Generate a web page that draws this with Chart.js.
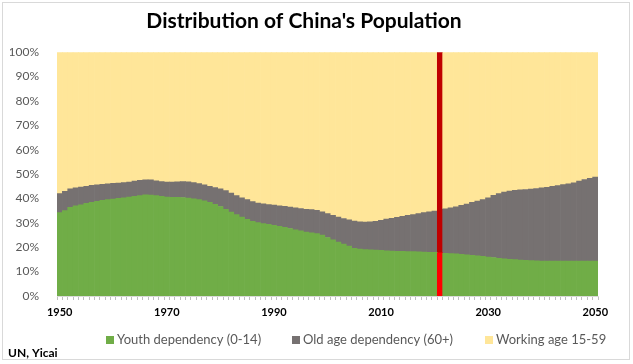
<!DOCTYPE html>
<html>
<head>
<meta charset="utf-8">
<script src="https://cdn.jsdelivr.net/npm/chart.js@4"></script>
<style>
  html, body { margin: 0; padding: 0; background: #fff; }
  #wrap { width: 633px; height: 364px; }
</style>
</head>
<body>
<div id="wrap"><canvas id="popChart" width="633" height="364"></canvas></div>
<script>
// years 1950..2050, shares in %
const years = [];
for (let y = 1950; y <= 2050; y++) years.push(String(y));

const youth = [
  34.2, 35.0, 36.4, 37.0, 37.4, 38.0, 38.4, 38.8, 39.2, 39.5,
  39.8, 40.1, 40.3, 40.6, 40.9, 41.2, 41.5, 41.4, 41.2, 40.9,
  40.6, 40.5, 40.5, 40.4, 40.2, 39.9, 39.5, 39.0, 38.4, 37.6,
  36.7, 35.6, 34.4, 33.4, 32.4, 31.4, 30.6, 30.1, 29.7, 29.4,
  29.0, 28.6, 28.2, 27.7, 27.1, 26.7, 26.2, 25.9, 25.6, 25.0,
  24.0, 23.0, 22.1, 21.3, 20.5, 19.6, 19.2, 19.0, 18.9, 18.8,
  18.7, 18.5, 18.4, 18.3, 18.3, 18.2, 18.2, 18.1, 18.0, 17.9,
  17.9, 17.7, 17.5, 17.4, 17.3, 17.1, 16.9, 16.7, 16.5, 16.3,
  16.0, 15.8, 15.5, 15.2, 15.0, 14.9, 14.7, 14.6, 14.5, 14.4,
  14.3, 14.3, 14.3, 14.3, 14.3, 14.3, 14.3, 14.3, 14.3, 14.3,
  14.3
];

const oldAge = [
  7.8, 7.9, 7.6, 7.4, 7.3, 7.0, 7.0, 6.8, 6.6, 6.5,
  6.4, 6.2, 6.2, 6.1, 6.2, 6.2, 6.2, 6.2, 6.0, 6.0,
  6.1, 6.2, 6.3, 6.5, 6.6, 6.6, 6.6, 6.6, 6.6, 6.9,
  7.3, 7.6, 7.8, 7.8, 7.9, 8.1, 8.1, 8.0, 8.1, 8.1,
  8.3, 8.4, 8.6, 8.8, 9.1, 9.2, 9.4, 9.5, 9.5, 9.5,
  9.8, 10.1, 10.3, 10.5, 10.7, 11.1, 11.2, 11.3, 11.5, 11.8,
  12.3, 13.0, 13.5, 14.0, 14.4, 14.9, 15.2, 15.7, 16.2, 16.6,
  16.9, 17.6, 18.3, 18.8, 19.3, 20.1, 20.8, 21.7, 22.4, 23.2,
  24.3, 25.5, 26.5, 27.4, 28.0, 28.4, 28.8, 29.1, 29.4, 29.7,
  30.1, 30.3, 30.7, 31.0, 31.4, 31.7, 32.1, 32.8, 33.5, 34.0,
  34.5
];

const working = [
  58.0, 57.1, 56.0, 55.6, 55.3, 55.0, 54.6, 54.4, 54.2, 54.0,
  53.8, 53.7, 53.5, 53.3, 52.9, 52.6, 52.3, 52.4, 52.8, 53.1,
  53.3, 53.3, 53.2, 53.1, 53.2, 53.5, 53.9, 54.4, 55.0, 55.5,
  56.0, 56.8, 57.8, 58.8, 59.7, 60.5, 61.3, 61.9, 62.2, 62.5,
  62.7, 63.0, 63.2, 63.5, 63.8, 64.1, 64.4, 64.6, 64.9, 65.5,
  66.2, 66.9, 67.6, 68.2, 68.8, 69.3, 69.6, 69.7, 69.6, 69.4,
  69.0, 68.5, 68.1, 67.7, 67.3, 66.9, 66.6, 66.2, 65.8, 65.5,
  65.2, 64.7, 64.2, 63.8, 63.4, 62.8, 62.3, 61.6, 61.1, 60.5,
  59.7, 58.7, 58.0, 57.4, 57.0, 56.7, 56.5, 56.3, 56.1, 55.9,
  55.6, 55.4, 55.0, 54.7, 54.3, 54.0, 53.6, 52.9, 52.2, 51.7,
  51.2
];

const seriesNames = ['Youth dependency (0-14)', 'Old age dependency (60+)', 'Working age 15-59'];
const xTickYears = ['1950', '1970', '1990', '2010', '2030', '2050'];
const markerYear = '2021';
const sourceText = 'UN, Yicai';

const GREEN = '#70AD47', GREY = '#767171', YELLOW = '#FFE699';

// the "today" marker is just the 2021 bar painted red
function colours(base, mark) {
  return years.map(y => y === markerYear ? mark : base);
}

const frame = {
  id: 'frame',
  beforeDraw(chart) {
    const ctx = chart.ctx;
    ctx.save();
    ctx.fillStyle = '#fff';
    ctx.fillRect(0, 0, chart.width, chart.height);
    ctx.strokeStyle = '#D9D9D9';
    ctx.lineWidth = 1;
    ctx.strokeRect(2.5, 2.5, 627, 357);
    ctx.restore();
  },
  afterDraw(chart) {
    const ctx = chart.ctx;
    ctx.save();
    const items = [
      { x: 106, c: GREEN },
      { x: 292, c: GREY },
      { x: 485, c: YELLOW }
    ];
    ctx.font = '13px Lato, "Open Sans", sans-serif';
    ctx.textBaseline = 'middle';
    items.forEach((it, i) => {
      ctx.fillStyle = it.c;
      ctx.fillRect(it.x, 336, 8, 8);
      ctx.fillStyle = '#595959';
      ctx.fillText(seriesNames[i], it.x + 11, 340);
    });
    ctx.font = 'bold 12px Lato, "Open Sans", sans-serif';
    ctx.fillStyle = '#000';
    ctx.fillText(sourceText, 8, 353);
    ctx.restore();
  }
};

const ctx = document.getElementById('popChart').getContext('2d');
new Chart(ctx, {
  type: 'bar',
  data: {
    labels: years,
    datasets: [
      { label: seriesNames[0], data: youth, backgroundColor: colours(GREEN, '#FF0000') },
      { label: seriesNames[1], data: oldAge, backgroundColor: colours(GREY, '#C00000') },
      { label: seriesNames[2], data: working, backgroundColor: colours(YELLOW, '#C00000') }
    ]
  },
  options: {
    responsive: false,
    animation: false,
    devicePixelRatio: 1,
    layout: { padding: { left: 10, right: 35, top: 8, bottom: 8 } },
    datasets: { bar: { barPercentage: 1, categoryPercentage: 1, borderWidth: 0 } },
    plugins: {
      legend: { display: false },
      tooltip: { enabled: false },
      title: {
        display: true,
        text: "Distribution of China's Population",
        color: '#000',
        font: { family: 'Lato, "Open Sans", sans-serif', size: 21, weight: 'bold' },
        padding: { top: 1, bottom: 18 }
      }
    },
    scales: {
      x: {
        stacked: true,
        grid: { drawOnChartArea: false, tickLength: 4, color: '#BFBFBF', offset: true },
        border: { color: '#D9D9D9' },
        ticks: {
          autoSkip: false,
          maxRotation: 0,
          padding: 6,
          color: '#000',
          font: { family: 'Lato, "Open Sans", sans-serif', size: 11, weight: 'bold' },
          callback: function (v) {
            const lab = this.getLabelForValue(v);
            return xTickYears.includes(lab) ? lab : '';
          }
        },
        afterFit: s => { s.height = 60; }
      },
      y: {
        stacked: true,
        min: 0,
        max: 100,
        grid: { display: false },
        border: { display: false },
        ticks: {
          stepSize: 10,
          padding: 10,
          color: '#595959',
          font: { family: 'Lato, "Open Sans", sans-serif', size: 12 },
          callback: v => v + '%'
        },
        afterFit: s => { s.width = 47; }
      }
    }
  },
  plugins: [frame]
});
</script>
</body>
</html>
